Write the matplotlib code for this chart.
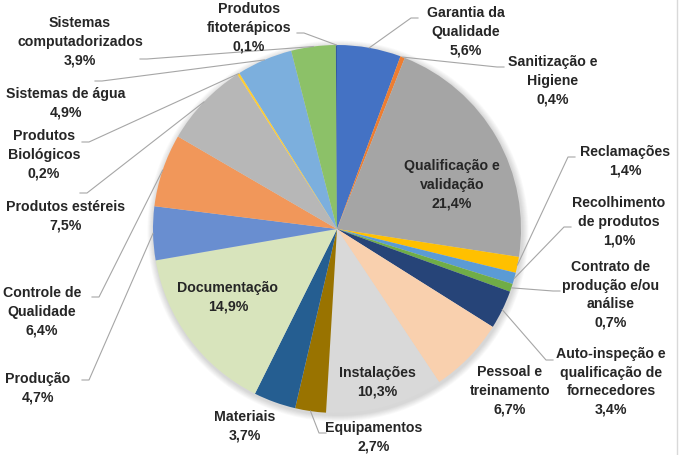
import numpy as np
import matplotlib.pyplot as plt
from matplotlib.patches import Circle
from matplotlib.lines import Line2D

# dados (sentido horario a partir do topo)
categorias = ['Garantia da\nQualidade', 'Sanitização e\nHigiene', 'Qualificação e\nvalidação',
              'Reclamações', 'Recolhimento\nde produtos', 'Contrato de\nprodução e/ou\nanálise',
              'Auto-inspeção e\nqualificação de\nfornecedores', 'Pessoal e\ntreinamento',
              'Instalações', 'Equipamentos', 'Materiais', 'Documentação', 'Produção',
              'Controle de\nQualidade', 'Produtos estéreis', 'Produtos\nBiológicos',
              'Sistemas de água', 'Sistemas\ncomputadorizados', 'Produtos\nfitoterápicos']
valores = [5.6, 0.4, 21.4, 1.4, 1.0, 0.7, 3.4, 6.7, 10.3, 2.7, 3.7, 14.9, 4.7,
           6.4, 7.5, 0.2, 4.9, 3.9, 0.1]
cores = ['#4472C4', '#ED7D31', '#A5A5A5', '#FFC000', '#5B9BD5', '#70AD47',
         '#264478', '#F9D0AE', '#D9D9D9', '#997300', '#255E91', '#D8E4BC',
         '#698ED0', '#F1975A', '#B7B7B7', '#FFCD33', '#7CAFDD', '#8CC168', '#335AA1']

W, H = 681, 455
cx, cy, R = 337, 229, 184

# posicao dos rotulos (px, origem no topo) e ponto de saida da linha guia (None = sem linha)
pos_rotulo = [(466, 32), (553, 81), (452, 185), (625, 161), (619, 222), (611, 295),
              (611, 382), (510, 391), (377, 382), (374, 437), (245, 426), (228, 297),
              (38, 388), (42, 312), (66, 216), (44, 155), (66, 103), (80, 42), (249, 28)]
ancora = [(418, 18), (504, 67), None, (575, 157), (571, 227), (560, 291),
          (553, 360), None, None, (326, 433), None, None,
          (82, 380), (92, 297), (80, 193), (82, 142), (95, 81), (140, 59), (297, 33)]

plt.rcParams['font.family'] = ['Liberation Sans', 'DejaVu Sans']

fig = plt.figure(figsize=(W / 100, H / 100), dpi=100)
ax = fig.add_axes([0, 0, 1, 1])

# sombra suave
for k in range(8):
    ax.add_patch(Circle((cx + 1, H - cy - 2), R + 1 + k * 0.8, color='black',
                        alpha=0.018, lw=0, zorder=0))

wedges, _ = ax.pie(valores, colors=cores, startangle=90, counterclock=False,
                   center=(cx, H - cy), radius=R, wedgeprops=dict(linewidth=0))
for w in wedges:
    w.set_zorder(1)

for i, w in enumerate(wedges):
    txt = categorias[i] + '\n' + f'{valores[i]:.1f}%'.replace('.', ',')
    x, y = pos_rotulo[i]
    ax.text(x, H - y, txt, ha='center', va='center', fontsize=10.2,
            fontweight='bold', color='#262626', linespacing=1.42, zorder=3)
    if ancora[i] is not None:
        ang = np.deg2rad((w.theta1 + w.theta2) / 2)
        px, py = cx + R * np.cos(ang), (H - cy) + R * np.sin(ang)
        ax_, ay_ = ancora[i]
        kx = ax_ - 7 if ax_ > px else ax_ + 7
        ax.plot([ax_, kx, px], [H - ay_, H - ay_, py], color='#A6A6A6',
                lw=0.8, zorder=2)

ax.set_xlim(0, W)
ax.set_ylim(0, H)
ax.set_aspect('equal')
ax.axis('off')

fig.add_artist(Line2D([677 / W, 677 / W], [0, 1], color='#D9D9D9', lw=1))

fig.savefig('out.png', dpi=100)
